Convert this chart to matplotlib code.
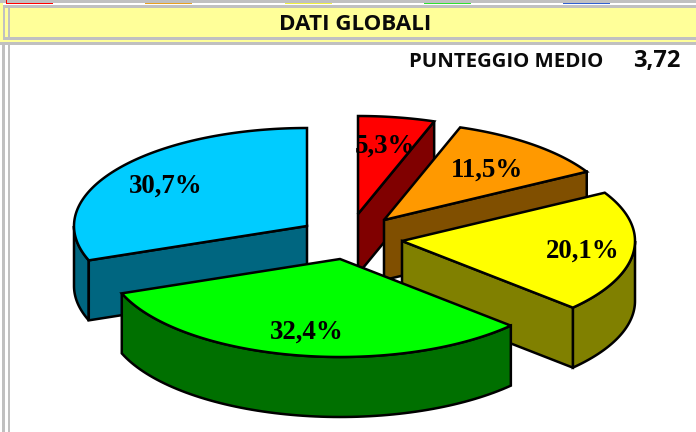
import numpy as np
import matplotlib
matplotlib.use("Agg")
import matplotlib.pyplot as plt
from matplotlib.patches import Polygon, Rectangle

# ---- data ----
values = [5.3, 11.5, 20.1, 32.4, 30.7]
labels = ["5,3%", "11,5%", "20,1%", "32,4%", "30,7%"]
title = "DATI GLOBALI"
score_label = "PUNTEGGIO MEDIO"
score_value = "3,72"

# ---- styles / layout ----
top_colors = ["#FF0000", "#FF9900", "#FFFF00", "#00FF00", "#00CCFF"]
side_colors = ["#800000", "#804F00", "#808000", "#007000", "#006680"]
tab_colors = ["#FF0000", "#E8A020", "#F0F040", "#30E030", "#3060D0"]
tab_x = [6, 145, 285, 424, 563]
centers = [(358, 214), (384, 220), (402, 241), (340, 259), (307, 226)]
label_frac = [0.70, 0.69, 0.78, 0.73, 0.74]
label_dy = [0, 2, 1, 3, 1]
draw_order = [0, 1, 4, 2, 3]
RX, RY, DEPTH = 233, 98, 60
GREY = "#C0C0C0"
BAND = "#FFFF99"

fig = plt.figure(figsize=(6.96, 4.32), dpi=100, facecolor="white")
ax = fig.add_axes([0, 0, 1, 1])
ax.set_xlim(0, 696)
ax.set_ylim(432, 0)
ax.axis("off")


def rect(x, y, w, h, color, z=1):
    ax.add_patch(Rectangle((x, y), w, h, facecolor=color, edgecolor="none", zorder=z))


# frame of the sheet
rect(0, 0, 696, 3, GREY)
for x, c in zip(tab_x, tab_colors):
    rect(x, 2.6, 47, 1.0, c, 2)
rect(6, 0, 1, 3, "#FF0000", 2)
rect(0, 5, 696, 3, GREY)
rect(0, 8, 696, 29, BAND)
rect(0, 37, 696, 3, GREY)
rect(0, 40, 696, 1.7, BAND)
rect(0, 41.7, 696, 3, GREY)
rect(2.5, 5, 2.5, 35, GREY, 2)
rect(7.5, 5, 2.5, 35, GREY, 2)
rect(0, 3, 2.5, 38, BAND, 1)
rect(1.7, 44, 3.3, 388, GREY, 2)
rect(7.5, 44, 2.5, 388, GREY, 2)

ax.text(355, 25, title, family="Open Sans", weight="bold", fontsize=16.1,
        ha="center", va="center", color="#0a0a0a", zorder=5)
ax.text(506, 62, score_label, family="Open Sans", weight="bold", fontsize=14.7,
        ha="center", va="center", color="#0a0a0a", zorder=5)
ax.text(657, 61.5, score_value, family="Open Sans", weight="bold", fontsize=17,
        ha="center", va="center", color="#0a0a0a", zorder=5)

# exploded 3-D pie derived from the shares
edges = np.concatenate([[0], np.cumsum(values)]) / np.sum(values) * 2 * np.pi


def pt(c, a, dz=0.0):
    return c[0] + RX * np.sin(a), c[1] - RY * np.cos(a) + dz


z = 10
lw = 1.8
for i in draw_order:
    c = centers[i]
    a0, a1 = edges[i], edges[i + 1]
    style = dict(edgecolor="black", linewidth=lw, joinstyle="miter")

    # curved outer wall: only the part facing the viewer
    b0, b1 = max(a0, np.pi / 2), min(a1, 3 * np.pi / 2)
    if b1 > b0:
        t = np.linspace(b0, b1, 80)
        upper = np.column_stack(pt(c, t))
        lower = np.column_stack(pt(c, t, DEPTH))[::-1]
        ax.add_patch(Polygon(np.vstack([upper, lower]), closed=True,
                             facecolor=side_colors[i], zorder=z, **style))
        z += 1
    # flat cut walls
    cut = []
    if np.sin(a0) < -1e-6:
        cut.append(a0)
    if np.sin(a1) > 1e-6:
        cut.append(a1)
    for a in cut:
        p = pt(c, a)
        poly = [c, p, (p[0], p[1] + DEPTH), (c[0], c[1] + DEPTH)]
        ax.add_patch(Polygon(poly, closed=True, facecolor=side_colors[i],
                             zorder=z, **style))
        z += 1
    # top face
    t = np.linspace(a0, a1, 120)
    arc = np.column_stack(pt(c, t))
    ax.add_patch(Polygon(np.vstack([[c], arc]), closed=True,
                         facecolor=top_colors[i], zorder=z, **style))
    z += 1

# percentage labels on top of everything
for i, lab in enumerate(labels):
    mid = (edges[i] + edges[i + 1]) / 2
    x = centers[i][0] + RX * label_frac[i] * np.sin(mid)
    y = centers[i][1] - RY * label_frac[i] * np.cos(mid) + label_dy[i]
    ax.text(x, y, lab, family="Liberation Serif", weight="bold", fontsize=19.4,
            ha="center", va="center", color="black", zorder=100)

fig.savefig("out.png", dpi=100, facecolor="white")
